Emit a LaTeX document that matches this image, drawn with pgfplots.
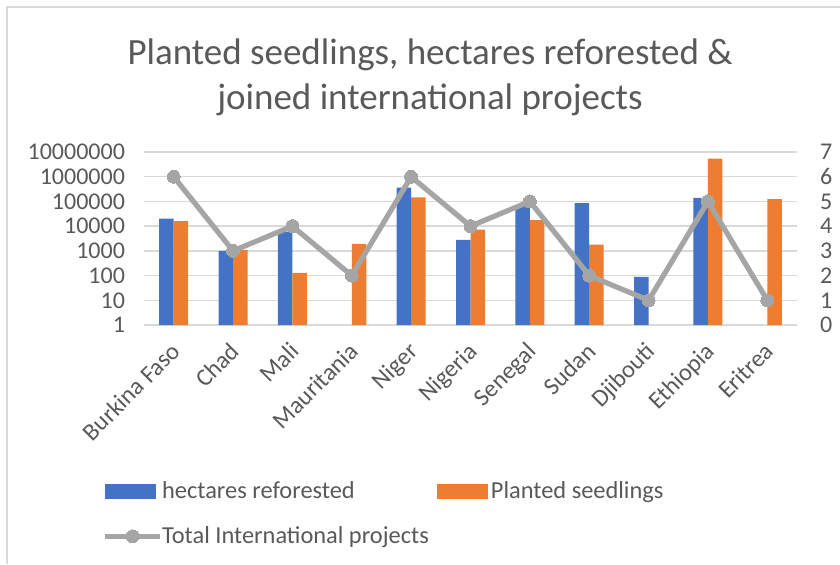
\documentclass[border=0pt]{standalone}
\usepackage{pgfplots}
\pgfplotsset{compat=1.18}
\usepackage{fontspec}
\setmainfont{Carlito}
\definecolor{cblue}{HTML}{4472C4}
\definecolor{corange}{HTML}{ED7D31}
\definecolor{cgray}{HTML}{A5A5A5}
\definecolor{cgrid}{HTML}{D9D9D9}
\definecolor{ctext}{HTML}{595959}
\newcommand\tickfont{\fontsize{12}{14}\selectfont}
\newcommand\labfont{\fontsize{12.2}{14.5}\selectfont}
\pgfplotsset{
  linelegend/.style={legend image code/.code={\draw[overlay, mark repeat=2, mark phase=2, ##1] plot coordinates {(0pt,0pt) (13.75pt,0pt) (27.5pt,0pt)}; \path[draw=none, fill=none] (0pt,-3pt) rectangle (26.5pt,3pt);}},
  bluelegend/.style={legend image code/.code={\fill[cblue, draw=none, overlay] (0pt,-3.75pt) rectangle (25.5pt,3.75pt); \path[draw=none, fill=none] (0pt,-3.75pt) rectangle (25pt,3.75pt);}},
  orangelegend/.style={legend image code/.code={\fill[corange, draw=none, overlay] (0pt,-3.75pt) rectangle (25.5pt,3.75pt); \path[draw=none, fill=none] (0pt,-3.75pt) rectangle (25pt,3.75pt);}},
}
\begin{document}
\begin{tikzpicture}
\useasboundingbox (0,0) rectangle (420pt,-282pt);
\draw[cgrid, line width=0.75pt] (3.5pt,-282pt) -- (3.5pt,-3.5pt) -- (420pt,-3.5pt);
\node[text=ctext, font=\fontsize{18.5}{22.5}\selectfont, align=center] at (215pt,-38.75pt) {Planted seedlings, hectares reforested \&\\joined international projects};
\begin{axis}[
  at={(72pt,-162.5pt)}, anchor=south west, scale only axis,
  width=326.5pt, height=86.5pt,
  ymode=log, log basis y=10, ymin=1, ymax=1e7, log origin=infty,
  ytick={1,10,100,1000,10000,100000,1000000,10000000},
  yticklabels={1,10,100,1000,10000,100000,1000000,10000000},
  xmin=-0.5, xmax=10.5, xtick={0,1,2,3,4,5,6,7,8,9,10},
  xticklabels={Burkina Faso,Chad,Mali,Mauritania,Niger,Nigeria,Senegal,Sudan,Djibouti,Ethiopia,Eritrea},
  ticklabel style={font=\tickfont, text=ctext},
  xticklabel style={font=\labfont, xshift=-2pt, yshift=-3pt, rotate=45, anchor=north east},
  yticklabel style={xshift=-6pt},
  ymajorgrids, grid style={cgrid, line width=0.75pt},
  axis line style={draw=none}, tick style={draw=none}, major tick length=0pt,
  ybar=0pt, bar width=7.25pt,
]
\addplot[fill=cblue, draw=none] coordinates {(0,20000) (1,1000) (2,6000) (4,360000) (5,2800) (6,65000) (7,86000) (8,89) (9,140000)};
\addplot[fill=corange, draw=none] coordinates {(0,16000) (1,1100) (2,130) (3,1900) (4,145000) (5,7300) (6,17500) (7,1800) (9,5400000) (10,124000)};
\end{axis}
\begin{axis}[
  at={(72pt,-162.5pt)}, anchor=south west, scale only axis,
  width=326.5pt, height=86.5pt,
  xmin=-0.5, xmax=10.5, ymin=0, ymax=7,
  axis x line=none, axis y line*=right,
  axis line style={draw=none}, tick style={draw=none}, major tick length=0pt,
  ytick={0,1,2,3,4,5,6,7}, yticklabels={0,1,2,3,4,5,6,7},
  ticklabel style={font=\tickfont, text=ctext},
  yticklabel style={xshift=8pt},
  legend columns=2,
  legend cell align=left,
  legend style={at={(-0.0693,-0.855)}, anchor=north west, draw=none, fill=none,
    font=\labfont, text=ctext, row sep=8.5pt,
    /tikz/column 2/.style={column sep=2pt}},
]
\addlegendimage{bluelegend}
\addlegendentry{hectares reforested}
\addlegendimage{orangelegend}
\addlegendentry{Planted seedlings}
\addplot[cgray, line width=2.6pt, mark=*, mark size=3.25pt, mark options={fill=cgray, draw=cgray, line width=0pt}, linelegend]
  coordinates {(0,6) (1,3) (2,4) (3,2) (4,6) (5,4) (6,5) (7,2) (8,1) (9,5) (10,1)};
\addlegendentry{Total International projects}
\end{axis}
\end{tikzpicture}
\end{document}
